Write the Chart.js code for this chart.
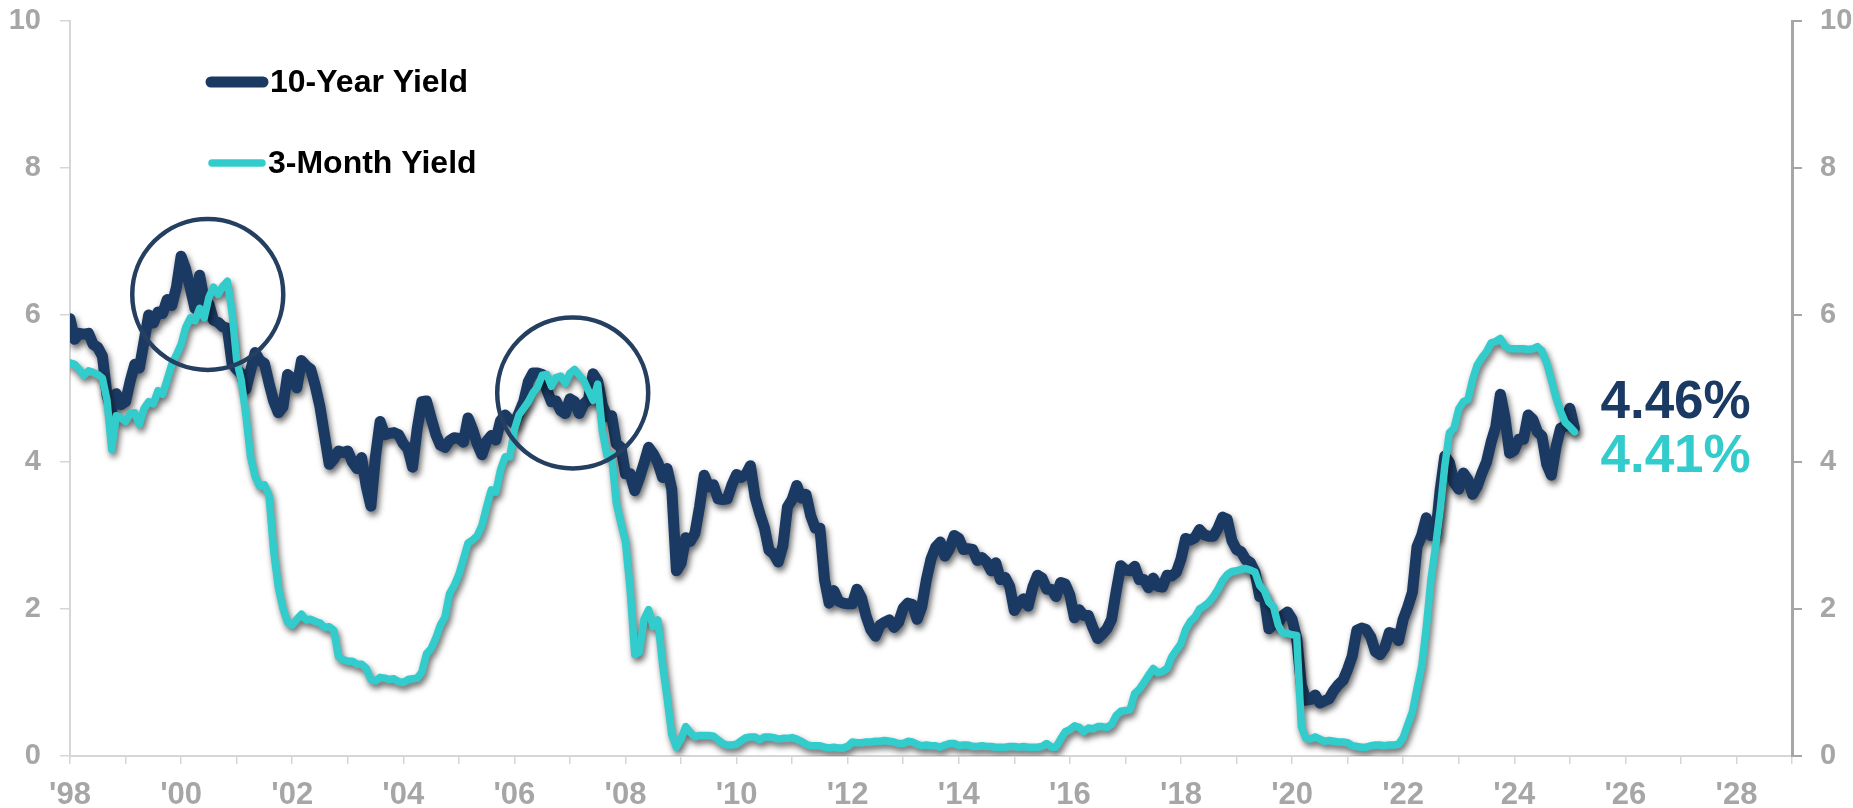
<!DOCTYPE html>
<html>
<head>
<meta charset="utf-8">
<title>10-Year vs 3-Month Treasury Yield</title>
<script src="https://cdn.jsdelivr.net/npm/chart.js@4.4.1/dist/chart.umd.min.js"></script>
<style>
  html, body { margin: 0; padding: 0; background: #ffffff; }
  #wrap { width: 1853px; height: 808px; position: relative; }
  canvas { display: block; }
</style>
</head>
<body>
<div id="wrap"><canvas id="chart" width="1853" height="808"></canvas></div>
<script>
// Monthly observations, first value = January 1998
const START_YEAR = 1998;

const tenYearYield = [
  5.95, 5.67, 5.75, 5.74, 5.75, 5.60, 5.56, 5.44, 4.91, 4.70, 4.93, 4.78, // 1998
  4.82, 5.10, 5.33, 5.28, 5.64, 6.00, 5.89, 6.04, 6.02, 6.21, 6.13, 6.38, // 1999
  6.80, 6.62, 6.36, 6.09, 6.54, 6.20, 6.15, 5.93, 5.90, 5.84, 5.82, 5.34, // 2000
  5.26, 5.20, 4.99, 5.24, 5.49, 5.38, 5.34, 5.07, 4.83, 4.67, 4.75, 5.19, // 2001
  5.14, 5.01, 5.38, 5.31, 5.26, 5.03, 4.75, 4.36, 3.97, 4.04, 4.15, 4.13, // 2002
  4.15, 4.00, 3.91, 4.06, 3.67, 3.40, 4.08, 4.55, 4.37, 4.39, 4.40, 4.37, // 2003
  4.25, 4.18, 3.93, 4.45, 4.82, 4.83, 4.60, 4.38, 4.23, 4.20, 4.29, 4.33, // 2004
  4.32, 4.27, 4.60, 4.44, 4.24, 4.10, 4.28, 4.36, 4.30, 4.56, 4.64, 4.57, // 2005
  4.52, 4.67, 4.82, 5.09, 5.21, 5.21, 5.19, 4.98, 4.82, 4.83, 4.70, 4.66, // 2006
  4.86, 4.82, 4.66, 4.79, 4.85, 5.20, 5.10, 4.77, 4.62, 4.63, 4.25, 4.20, // 2007
  3.84, 3.84, 3.61, 3.78, 3.98, 4.20, 4.11, 3.99, 3.79, 3.91, 3.63, 2.52, // 2008
  2.62, 2.97, 2.92, 3.03, 3.39, 3.82, 3.66, 3.69, 3.50, 3.49, 3.50, 3.69, // 2009
  3.83, 3.79, 3.83, 3.95, 3.52, 3.30, 3.11, 2.80, 2.75, 2.64, 2.86, 3.39, // 2010
  3.49, 3.68, 3.51, 3.56, 3.27, 3.10, 3.10, 2.40, 2.08, 2.25, 2.11, 2.08, // 2011
  2.07, 2.07, 2.27, 2.15, 1.90, 1.72, 1.63, 1.78, 1.82, 1.85, 1.75, 1.82, // 2012
  2.01, 2.08, 2.06, 1.86, 2.03, 2.40, 2.68, 2.84, 2.91, 2.72, 2.82, 3.00, // 2013
  2.96, 2.81, 2.82, 2.81, 2.66, 2.70, 2.64, 2.52, 2.63, 2.40, 2.43, 2.31, // 2014
  1.98, 2.08, 2.14, 2.04, 2.30, 2.46, 2.42, 2.27, 2.27, 2.17, 2.36, 2.34, // 2015
  2.19, 1.88, 1.99, 1.91, 1.91, 1.74, 1.60, 1.66, 1.73, 1.86, 2.24, 2.59, // 2016
  2.53, 2.52, 2.58, 2.40, 2.40, 2.29, 2.42, 2.31, 2.30, 2.46, 2.45, 2.50, // 2017
  2.68, 2.96, 2.94, 2.97, 3.08, 3.01, 2.99, 2.99, 3.10, 3.25, 3.22, 2.93, // 2018
  2.81, 2.78, 2.67, 2.63, 2.50, 2.17, 2.16, 1.73, 1.80, 1.81, 1.91, 1.96, // 2019
  1.86, 1.60, 0.97, 0.76, 0.77, 0.83, 0.72, 0.75, 0.78, 0.89, 0.97, 1.03, // 2020
  1.18, 1.36, 1.71, 1.74, 1.72, 1.62, 1.42, 1.38, 1.47, 1.68, 1.66, 1.57, // 2021
  1.86, 2.03, 2.23, 2.85, 3.00, 3.24, 3.00, 3.00, 3.62, 4.08, 3.99, 3.72, // 2022
  3.63, 3.85, 3.76, 3.56, 3.67, 3.85, 4.00, 4.27, 4.48, 4.92, 4.60, 4.12, // 2023
  4.16, 4.31, 4.31, 4.64, 4.58, 4.41, 4.35, 3.97, 3.82, 4.20, 4.46, 4.49, // 2024
  4.73, 4.46                                                              // 2025
];

const threeMonthYield = [
  5.35, 5.33, 5.26, 5.18, 5.24, 5.22, 5.19, 5.14, 4.84, 4.17, 4.63, 4.60, // 1998
  4.55, 4.66, 4.67, 4.51, 4.73, 4.82, 4.79, 4.97, 4.92, 5.12, 5.33, 5.46, // 1999
  5.60, 5.83, 5.96, 5.92, 6.09, 5.96, 6.24, 6.38, 6.28, 6.39, 6.46, 6.04, // 2000
  5.39, 5.11, 4.64, 4.07, 3.80, 3.67, 3.69, 3.54, 2.79, 2.30, 2.01, 1.82, // 2001
  1.78, 1.86, 1.93, 1.85, 1.86, 1.83, 1.81, 1.75, 1.76, 1.71, 1.35, 1.31, // 2002
  1.29, 1.29, 1.25, 1.25, 1.19, 1.04, 1.02, 1.07, 1.06, 1.04, 1.05, 1.01, // 2003
  1.00, 1.04, 1.05, 1.06, 1.14, 1.39, 1.46, 1.60, 1.78, 1.89, 2.21, 2.32, // 2004
  2.47, 2.68, 2.90, 2.94, 3.00, 3.14, 3.39, 3.62, 3.59, 3.89, 4.07, 4.07, // 2005
  4.44, 4.64, 4.73, 4.82, 4.94, 5.02, 5.18, 5.19, 5.03, 5.15, 5.17, 5.07, // 2006
  5.21, 5.26, 5.18, 5.11, 4.97, 4.84, 5.06, 4.42, 4.09, 4.10, 3.45, 3.17, // 2007
  2.92, 2.27, 1.38, 1.41, 1.86, 1.99, 1.76, 1.85, 1.25, 0.79, 0.29, 0.12, // 2008
  0.23, 0.40, 0.32, 0.26, 0.28, 0.28, 0.28, 0.27, 0.22, 0.17, 0.15, 0.15, // 2009
  0.16, 0.21, 0.25, 0.26, 0.26, 0.22, 0.26, 0.26, 0.25, 0.23, 0.24, 0.24, // 2010
  0.25, 0.23, 0.20, 0.16, 0.14, 0.14, 0.14, 0.12, 0.11, 0.12, 0.11, 0.11, // 2011
  0.13, 0.19, 0.18, 0.18, 0.19, 0.19, 0.20, 0.20, 0.21, 0.20, 0.19, 0.17, // 2012
  0.17, 0.20, 0.19, 0.16, 0.14, 0.15, 0.14, 0.14, 0.12, 0.15, 0.17, 0.17, // 2013
  0.14, 0.15, 0.15, 0.13, 0.13, 0.14, 0.13, 0.13, 0.12, 0.12, 0.12, 0.13, // 2014
  0.13, 0.12, 0.13, 0.12, 0.12, 0.12, 0.13, 0.17, 0.12, 0.12, 0.23, 0.33, // 2015
  0.36, 0.41, 0.39, 0.33, 0.38, 0.37, 0.40, 0.40, 0.39, 0.43, 0.55, 0.61, // 2016
  0.62, 0.63, 0.85, 0.91, 1.00, 1.10, 1.19, 1.13, 1.15, 1.19, 1.35, 1.44, // 2017
  1.53, 1.72, 1.83, 1.89, 2.00, 2.04, 2.09, 2.17, 2.27, 2.39, 2.47, 2.51, // 2018
  2.52, 2.54, 2.55, 2.53, 2.50, 2.32, 2.25, 2.09, 2.03, 1.78, 1.67, 1.67, // 2019
  1.65, 1.64, 0.40, 0.24, 0.23, 0.26, 0.23, 0.20, 0.21, 0.20, 0.19, 0.19, // 2020
  0.18, 0.14, 0.13, 0.12, 0.12, 0.14, 0.15, 0.15, 0.14, 0.15, 0.15, 0.16, // 2021
  0.25, 0.43, 0.60, 0.92, 1.22, 1.75, 2.40, 2.85, 3.35, 3.95, 4.40, 4.46, // 2022
  4.72, 4.82, 4.85, 5.12, 5.32, 5.42, 5.50, 5.62, 5.64, 5.68, 5.58, 5.54, // 2023
  5.54, 5.54, 5.54, 5.53, 5.54, 5.57, 5.51, 5.35, 5.12, 4.88, 4.69, 4.54, // 2024
  4.48, 4.41                                                              // 2025
];

const seriesNames = ['10-Year Yield', '3-Month Yield'];
const latestLabels = ['4.46%', '4.41%'];
const yTickValues = [0, 2, 4, 6, 8, 10];
const X_MIN = 1998, X_MAX = 2029;

// Highlighted periods (center in year / percent)
const highlightYears = [2000.48, 2007.05];
const highlightLevels = [6.28, 4.94];

// ---- styling ----
const NAVY = '#1b3a63';
const CYAN = '#33cccc';
const RING = '#253f61';
const AXIS_GRAY = '#a6a6a6';
const LIGHT_LINE = '#d6d6d6';
const FONT = "'Liberation Sans', Arial, Helvetica, sans-serif";

const toPoints = arr => arr.map((v, i) => ({ x: START_YEAR + i / 12, y: v }));

const xTickYears = [];
for (let y = X_MIN; y <= X_MAX; y++) xTickYears.push(y);

const lineShadow = {
  id: 'lineShadow',
  beforeDatasetDraw(chart) {
    const c = chart.ctx;
    c.save();
    c.shadowColor = 'rgba(0,0,0,0.6)';
    c.shadowBlur = 6;
    c.shadowOffsetX = 2;
    c.shadowOffsetY = 4;
  },
  afterDatasetDraw(chart) {
    chart.ctx.restore();
  }
};

const overlay = {
  id: 'overlay',
  afterDatasetsDraw(chart) {
    const c = chart.ctx;
    const xs = chart.scales.x, ys = chart.scales.y;
    const area = chart.chartArea;

    // rings around the two inversion periods
    c.save();
    c.strokeStyle = RING;
    c.lineWidth = 4.5;
    highlightYears.forEach((yr, k) => {
      c.beginPath();
      c.arc(xs.getPixelForValue(yr), ys.getPixelForValue(highlightLevels[k]), 75.5, 0, Math.PI * 2);
      c.stroke();
    });
    c.restore();

    // legend
    const legendItems = [
      { name: seriesNames[0], color: NAVY, width: 11, y: area.top + 61, x1: area.left + 141, x2: area.left + 193, tx: area.left + 200 },
      { name: seriesNames[1], color: CYAN, width: 7.5, y: area.top + 142, x1: area.left + 142, x2: area.left + 192, tx: area.left + 198 }
    ];
    c.save();
    c.lineCap = 'round';
    c.font = 'bold 32px ' + FONT;
    c.textBaseline = 'middle';
    c.textAlign = 'left';
    legendItems.forEach(it => {
      c.strokeStyle = it.color;
      c.lineWidth = it.width;
      c.beginPath();
      c.moveTo(it.x1, it.y);
      c.lineTo(it.x2, it.y);
      c.stroke();
      c.fillStyle = '#000000';
      c.fillText(it.name, it.tx, it.y + 1);
    });
    c.restore();

    // latest values next to the line ends
    const lastIdx = tenYearYield.length - 1;
    const endX = xs.getPixelForValue(START_YEAR + lastIdx / 12) + 26;
    const anchorY = ys.getPixelForValue(tenYearYield[lastIdx]);
    c.save();
    c.font = 'bold 53px ' + FONT;
    c.textAlign = 'left';
    c.textBaseline = 'alphabetic';
    c.fillStyle = NAVY;
    c.fillText(latestLabels[0], endX, anchorY - 10);
    c.fillStyle = CYAN;
    c.fillText(latestLabels[1], endX, anchorY + 44);
    c.restore();
  }
};

const tickFont = size => ({ family: FONT, size: size, weight: 'bold' });

// vertical axes: fixed width, no extra room above the top label
const fitVertical = w => s => { s.width = w; s.paddingTop = 0; s.paddingBottom = 0; };

new Chart(document.getElementById('chart').getContext('2d'), {
  type: 'line',
  data: {
    datasets: [
      {
        label: seriesNames[0],
        data: toPoints(tenYearYield),
        borderColor: NAVY,
        borderWidth: 11,
        pointRadius: 0,
        tension: 0,
        borderJoinStyle: 'round',
        borderCapStyle: 'round',
        yAxisID: 'y',
        order: 2
      },
      {
        label: seriesNames[1],
        data: toPoints(threeMonthYield),
        borderColor: CYAN,
        borderWidth: 7.5,
        pointRadius: 0,
        tension: 0,
        borderJoinStyle: 'round',
        borderCapStyle: 'round',
        yAxisID: 'y',
        order: 1
      }
    ]
  },
  options: {
    responsive: false,
    animation: false,
    events: [],
    layout: { padding: { top: 21, left: 0, right: 0, bottom: 0 } },
    plugins: { legend: { display: false }, tooltip: { enabled: false } },
    scales: {
      x: {
        type: 'linear',
        min: X_MIN,
        max: X_MAX,
        afterBuildTicks: s => { s.ticks = xTickYears.map(v => ({ value: v })); },
        afterFit: s => { s.height = 52; },
        ticks: {
          autoSkip: false,
          maxRotation: 0,
          minRotation: 0,
          padding: 13,
          color: AXIS_GRAY,
          font: tickFont(31),
          callback: v => (v % 2 === 0 ? "'" + String(v).slice(2) : '')
        },
        grid: { drawOnChartArea: false, drawTicks: true, tickLength: 8, color: LIGHT_LINE, lineWidth: 1.5 },
        border: { color: LIGHT_LINE, width: 2 }
      },
      y: {
        position: 'left',
        min: 0,
        max: 10,
        afterBuildTicks: s => { s.ticks = yTickValues.map(v => ({ value: v })); },
        afterFit: fitVertical(70),
        ticks: { padding: 19, color: AXIS_GRAY, font: tickFont(29) },
        grid: { drawOnChartArea: false, tickLength: 10, color: LIGHT_LINE, lineWidth: 1.5 },
        border: { color: LIGHT_LINE, width: 2 }
      },
      y1: {
        position: 'right',
        min: 0,
        max: 10,
        afterBuildTicks: s => { s.ticks = yTickValues.map(v => ({ value: v })); },
        afterFit: fitVertical(61),
        ticks: { padding: 18, color: AXIS_GRAY, font: tickFont(29) },
        grid: { drawOnChartArea: false, tickLength: 10, color: AXIS_GRAY, lineWidth: 2 },
        border: { color: AXIS_GRAY, width: 3 }
      }
    }
  },
  plugins: [lineShadow, overlay]
});
</script>
</body>
</html>
